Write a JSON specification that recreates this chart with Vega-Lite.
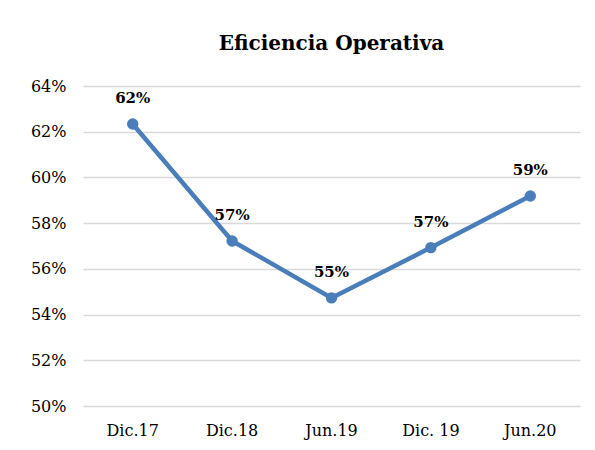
{
  "$schema": "https://vega.github.io/schema/vega-lite/v6.json",
  "width": 497,
  "height": 320,
  "autosize": "none",
  "padding": {"left": 83, "top": 86, "right": 15, "bottom": 44},
  "background": "white",
  "config": {
    "view": {"stroke": null},
    "font": "DejaVu Serif"
  },
  "title": {
    "text": "Eficiencia Operativa",
    "font": "DejaVu Serif",
    "fontSize": 20,
    "fontWeight": "bold",
    "color": "black",
    "anchor": "middle",
    "offset": 24
  },
  "data": {
    "values": [
      {"periodo": "Dic.17", "valor": 0.6234},
      {"periodo": "Dic.18", "valor": 0.5722},
      {"periodo": "Jun.19", "valor": 0.5473},
      {"periodo": "Dic. 19", "valor": 0.5693},
      {"periodo": "Jun.20", "valor": 0.5919}
    ]
  },
  "encoding": {
    "x": {
      "field": "periodo",
      "type": "nominal",
      "sort": null,
      "scale": {"type": "band", "paddingInner": 0, "paddingOuter": 0},
      "axis": {
        "title": null,
        "labelAngle": 0,
        "labelFont": "DejaVu Serif",
        "labelFontSize": 16,
        "labelColor": "black",
        "labelPadding": 16,
        "ticks": false,
        "domain": false,
        "grid": false
      }
    },
    "y": {
      "field": "valor",
      "type": "quantitative",
      "scale": {"domain": [0.5, 0.64], "nice": false, "zero": false},
      "axis": {
        "title": null,
        "format": ".0%",
        "values": [0.5, 0.52, 0.54, 0.56, 0.58, 0.6, 0.62, 0.64],
        "labelFont": "DejaVu Serif",
        "labelFontSize": 16,
        "labelColor": "black",
        "labelPadding": 17,
        "ticks": false,
        "domain": false,
        "grid": true,
        "gridColor": "#d9d9d9",
        "gridWidth": 1.5
      }
    }
  },
  "layer": [
    {
      "mark": {"type": "line", "color": "#4a7ebb", "strokeWidth": 4.5, "point": {"size": 130, "color": "#4a7ebb", "opacity": 1}}
    },
    {
      "mark": {"type": "text", "font": "DejaVu Serif", "fontSize": 15, "fontWeight": "bold", "color": "black", "dy": -26, "baseline": "middle"},
      "encoding": {
        "text": {"field": "valor", "type": "quantitative", "format": ".0%"}
      }
    }
  ]
}
